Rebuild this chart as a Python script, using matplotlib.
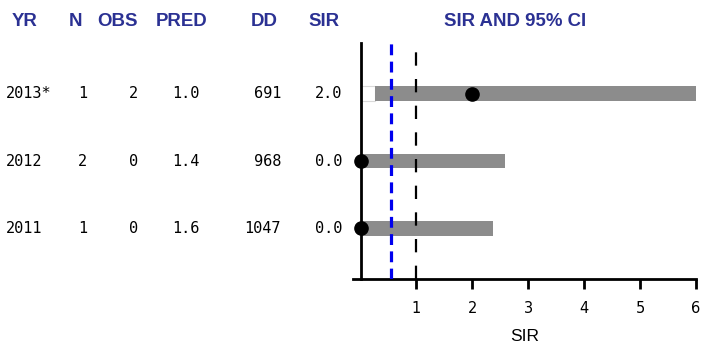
import matplotlib
matplotlib.use("Agg")
import matplotlib.pyplot as plt
import matplotlib.transforms as mtransforms

years = ["2011", "2012", "2013*"]
n_vals = ["1", "2", "1"]
obs_vals = ["0", "0", "2"]
pred_vals = ["1.6", "1.4", "1.0"]
dd_vals = ["1047", "968", "691"]
sir_text = ["0.0", "0.0", "2.0"]
sir = [0.0, 0.0, 2.0]
ci_low = [0.0, 0.0, 0.25]
ci_high = [2.37, 2.58, 7.2]
pooled_sir = 0.54
reference_sir = 1.0
headers = ["YR", "N", "OBS", "PRED", "DD", "SIR"]
xticks = [1, 2, 3, 4, 5, 6]

W, H = 701, 354
fig = plt.figure(figsize=(W / 100, H / 100), dpi=100)
left_px, right_px, top_px, bot_px = 352.7, 696, 43, 279
ax = fig.add_axes([left_px / W, 1 - bot_px / H, (right_px - left_px) / W, (bot_px - top_px) / H])
ax.set_xlim(-0.14, 6)
ax.set_ylim(-0.75, 2.75)

navy = "#2b3193"
grey = "#8c8c8c"
ypos = list(range(len(years)))

# CI bars: white part up to lower bound, grey from lower to upper
ax.barh(ypos, ci_low, left=0, height=0.22, color="white", edgecolor="#d9d9d9", linewidth=0.8, zorder=2)
ax.barh(ypos, [h - l for h, l in zip(ci_high, ci_low)], left=ci_low, height=0.22,
        color=grey, edgecolor="none", zorder=2)

ax.axvline(pooled_sir, color="#0000ee", lw=2.3, dashes=(3.4, 2.0), zorder=4)
ax.axvline(reference_sir, color="black", lw=1.6, dashes=(6.0, 6.0), zorder=4)

ax.plot(sir, ypos, "o", color="black", markersize=9.5, zorder=5, clip_on=False)

for s in ["top", "right"]:
    ax.spines[s].set_visible(False)
ax.spines["left"].set_position(("data", 0))
ax.spines["left"].set_linewidth(2)
ax.spines["bottom"].set_linewidth(2)
ax.spines["left"].set_zorder(6)
ax.set_yticks([])
ax.set_xticks(xticks)
ax.set_xticklabels([str(t) for t in xticks], fontsize=10.5, family="DejaVu Sans")
ax.tick_params(axis="x", direction="out", length=7, width=2, pad=8.5)
ax.set_xlabel("SIR", fontsize=12.5, family="Liberation Sans", labelpad=10)

# table text
trans = mtransforms.blended_transform_factory(fig.transFigure, ax.transData)
mono = dict(family="DejaVu Sans Mono", fontsize=11, va="center", transform=trans)
for i, y in enumerate(ypos):
    fig.text(6 / W, y, years[i], ha="left", **mono)
    fig.text(87 / W, y, n_vals[i], ha="right", **mono)
    fig.text(138 / W, y, obs_vals[i], ha="right", **mono)
    fig.text(200 / W, y, pred_vals[i], ha="right", **mono)
    fig.text(281 / W, y, dd_vals[i], ha="right", **mono)
    fig.text(342 / W, y, sir_text[i], ha="right", **mono)

hdr_x = [24.5, 75, 118, 182, 264, 324]
hy = 1 - 21 / H
for x, t in zip(hdr_x, headers):
    fig.text(x / W, hy, t, ha="center", va="center", color=navy, fontsize=13.4,
             family="Liberation Sans", fontweight="bold")
fig.text(515 / W, hy, "SIR AND 95% CI", ha="center", va="center", color=navy, fontsize=13.4,
         family="Liberation Sans", fontweight="bold")

fig.savefig("out.png", dpi=100)
